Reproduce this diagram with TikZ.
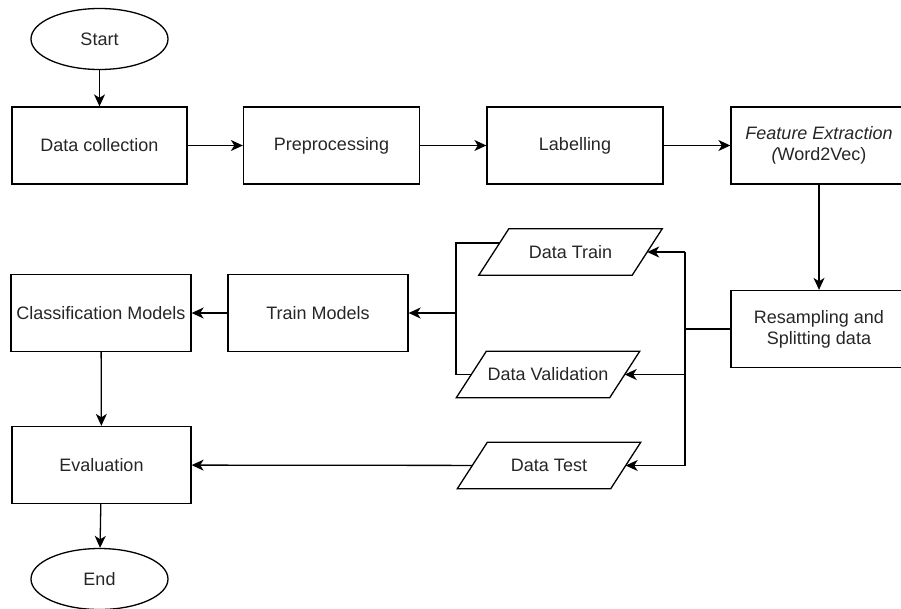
\documentclass[tikz,border=0pt]{standalone}
\usepackage{fontspec}
\setmainfont{Liberation Sans}
\usetikzlibrary{shapes.geometric,arrows.meta,calc}
\newcommand\iopath[1]{\draw[ln] ([xshift=15pt]#1.north west) -- ([xshift=15pt]#1.north east) -- ([xshift=-15pt]#1.south east) -- ([xshift=-15pt]#1.south west) -- cycle;}
\begin{document}
\begin{tikzpicture}[x=1pt,y=-1pt,
  every node/.style={font=\fontsize{18}{21}\selectfont, text=black!85},
  box/.style={draw, line width=1.3pt, rectangle, minimum width=176pt, minimum height=77pt, inner sep=1pt, align=center},
  term/.style={draw, line width=1.3pt, ellipse, minimum width=137pt, minimum height=61pt, inner sep=0pt},
  io/.style={rectangle, minimum width=153pt, minimum height=46pt, inner sep=0pt},
  arr/.style={line width=1.3pt, -{Stealth[length=12pt,width=11pt,inset=3.5pt]}},
  ln/.style={line width=1.3pt, line join=miter}]
\useasboundingbox (0,0) rectangle (901,608);
\clip (0,0) rectangle (901,608);
\node[term] (start) at (99.5,39) {Start};
\node[box, minimum width=175pt] (dcoll) at (99.5,145.5) {Data collection};
\node[box] (prep) at (331.5,145.5) {Preprocessing};
\node[box] (lab) at (575,145.5) {Labelling};
\node[box] (feat) at (819,145.5) {\itshape Feature Extraction\\{\itshape(}Word2Vec)};
\node[box] (resamp) at (819,329) {Resampling and\\Splitting data};
\node[io] (dtrain) at (570.5,252) {Data Train};
\node[io] (dval) at (548,374.5) {Data Validation};
\node[io] (dtest) at (549,465.5) {Data Test};
\iopath{dtrain}
\iopath{dval}
\iopath{dtest}
\node[box, minimum width=180pt] (train) at (318,313) {Train Models};
\node[box, minimum width=180pt, inner sep=0pt] (cls) at (101,313) {Classification Models};
\node[box, minimum width=179pt] (eval) at (101.5,465) {Evaluation};
\node[term] (end) at (99.5,579) {End};
\coordinate (busA) at (685,252);
\coordinate (busB) at (685,374.5);
\coordinate (busC) at (685,465.5);
\coordinate (busM) at (685,329);
\coordinate (brk) at (456,313);
\coordinate (dtl) at ($([xshift=-15pt]dtrain.south west)!0.696!([xshift=15pt]dtrain.north west)$);
\draw[arr] (start) -- (dcoll);
\draw[arr] (dcoll) -- (prep);
\draw[arr] (prep) -- (lab);
\draw[arr] (lab) -- (feat);
\draw[arr] (feat) -- (resamp);
\draw[ln] (resamp) -- (busM);
\draw[ln] (busA) -- (busC);
\draw[arr] (busA) -- (dtrain);
\draw[arr] (busB) -- (dval);
\draw[arr] (busC) -- (dtest);
\draw[ln] (dtl) -| (brk) |- (dval);
\draw[arr] (brk) -- (train);
\draw[arr] (train) -- (cls);
\draw[arr] (cls) -- (eval);
\draw[arr] (dtest) -- (eval);
\draw[arr] (eval) -- (end);
\end{tikzpicture}
\end{document}
